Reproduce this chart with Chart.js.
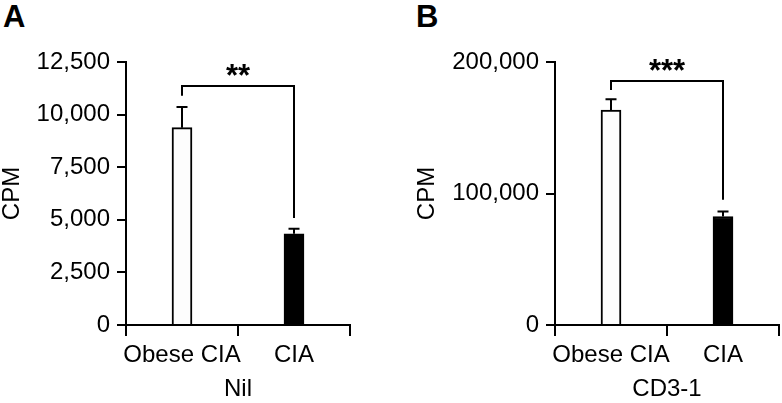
<!DOCTYPE html>
<html>
<head>
<meta charset="utf-8">
<script src="https://cdn.jsdelivr.net/npm/chart.js@4"></script>
<style>
  html, body { margin: 0; padding: 0; background: #fff; width: 782px; height: 403px; overflow: hidden; }
  .wrap { position: absolute; top: 0; }
  .panel { position: absolute; font-family: "Liberation Sans", Arial, sans-serif; font-weight: bold; font-size: 31px; line-height: 31px; color: #000; }
</style>
</head>
<body>
<div class="panel" style="left:3px; top:1px;">A</div>
<div class="panel" style="left:416px; top:1px;">B</div>
<div class="wrap" style="left:0px;"><canvas id="chartA" width="391" height="403"></canvas></div>
<div class="wrap" style="left:412px;"><canvas id="chartB" width="370" height="403"></canvas></div>
<script>
// ---- data ----
const categories = ['Obese CIA', 'CIA'];

const nilValues = [9380, 4335];
const nilErrors = [980, 240];
const nilTicks = [0, 2500, 5000, 7500, 10000, 12500];
const nilBracket = [10890, 11360, 5080];   // left leg end, top, right leg end
const nilSig = '**';

const cd3Values = [163500, 82500];
const cd3Errors = [8100, 3800];
const cd3Ticks = [0, 100000, 200000];
const cd3Bracket = [178700, 185500, 95200];
const cd3Sig = '***';

const FONT = '"Liberation Sans", Arial, sans-serif';

const overlayPlugin = {
  id: 'overlay',
  afterDatasetsDraw(chart, args, opts) {
    const ctx = chart.ctx;
    const x = chart.scales.x, y = chart.scales.y;
    ctx.save();
    ctx.strokeStyle = '#000';
    ctx.lineWidth = 2;
    ctx.lineCap = 'butt';
    // error bars (upper only)
    opts.values.forEach((v, i) => {
      const px = x.getPixelForValue(i);
      const y0 = y.getPixelForValue(v);
      const y1 = y.getPixelForValue(v + opts.errors[i]);
      ctx.beginPath();
      ctx.moveTo(px, y0);
      ctx.lineTo(px, y1);
      ctx.moveTo(px - 5.5, y1);
      ctx.lineTo(px + 5.5, y1);
      ctx.stroke();
    });
    // significance bracket
    const b = opts.bracket;
    const xl = x.getPixelForValue(0), xr = x.getPixelForValue(1);
    ctx.beginPath();
    ctx.moveTo(xl, y.getPixelForValue(b[0]));
    ctx.lineTo(xl, y.getPixelForValue(b[1]));
    ctx.lineTo(xr, y.getPixelForValue(b[1]));
    ctx.lineTo(xr, y.getPixelForValue(b[2]));
    ctx.stroke();
    ctx.fillStyle = '#000';
    ctx.font = 'bold 31px ' + FONT;
    ctx.textAlign = 'center';
    ctx.textBaseline = 'middle';
    ctx.fillText(opts.sig, (xl + xr) / 2, y.getPixelForValue(b[1]) - 9);
    ctx.restore();
  }
};

function makeChart(id, values, errors, ticks, bracket, sig, title, yWidth, padRight, titlePad) {
  return new Chart(document.getElementById(id), {
    type: 'bar',
    data: {
      labels: categories,
      datasets: [{
        data: values,
        backgroundColor: ['#fdfdfd', '#000'],
        borderColor: '#000',
        borderWidth: 2,
        borderSkipped: 'bottom',
        barThickness: 20
      }]
    },
    options: {
      responsive: false,
      animation: false,
      events: [],
      layout: { padding: { left: 0, top: 62, right: padRight, bottom: 0 } },
      plugins: {
        legend: { display: false },
        tooltip: { enabled: false },
        overlay: { values: values, errors: errors, bracket: bracket, sig: sig }
      },
      scales: {
        x: {
          grid: { drawOnChartArea: false, color: '#000', lineWidth: 2, tickLength: 11, offset: true },
          border: { color: '#000', width: 2 },
          ticks: { color: '#000', font: { family: FONT, size: 24 }, padding: 5, autoSkip: false, maxRotation: 0 },
          title: { display: true, text: title, color: '#000', font: { family: FONT, size: 24 }, padding: { top: 0, bottom: -1 } },
          afterFit(s) { s.height = 78; }
        },
        y: {
          min: ticks[0],
          max: ticks[ticks.length - 1],
          afterBuildTicks(s) { s.ticks = ticks.map(v => ({ value: v })); },
          grid: { drawOnChartArea: false, color: '#000', lineWidth: 2, tickLength: 9 },
          border: { color: '#000', width: 2 },
          ticks: {
            color: '#000', font: { family: FONT, size: 24 }, padding: 7,
            callback: v => Number(v).toLocaleString('en-US')
          },
          title: { display: true, text: 'CPM', color: '#000', font: { family: FONT, size: 24 }, padding: { top: titlePad, bottom: 0 } },
          afterFit(s) { s.width = yWidth; }
        }
      }
    },
    plugins: [overlayPlugin]
  });
}

makeChart('chartA', nilValues, nilErrors, nilTicks, nilBracket, nilSig, 'Nil', 126, 41, -2);
makeChart('chartB', cd3Values, cd3Errors, cd3Ticks, cd3Bracket, cd3Sig, 'CD3-1', 143, 3, 1);
</script>
</body>
</html>
